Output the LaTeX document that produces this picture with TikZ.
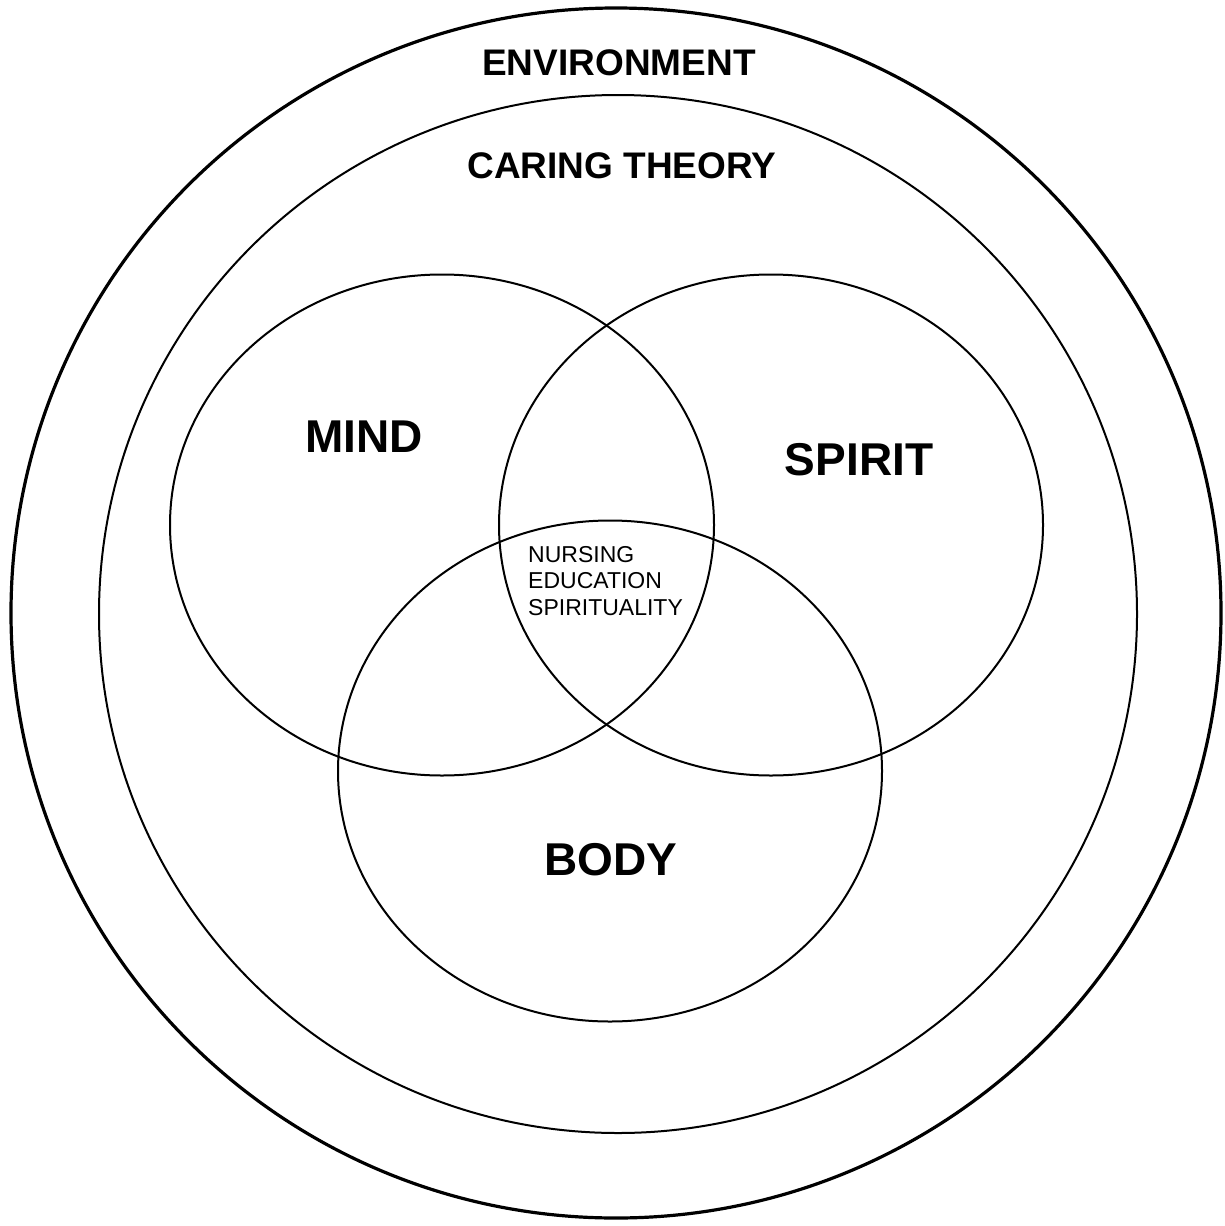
\documentclass[tikz,border=0pt]{standalone}
\usepackage{fontspec}
\setmainfont{Liberation Sans}
\usetikzlibrary{shapes.geometric}

\begin{document}
\begin{tikzpicture}[x=1pt, y=-1pt,
    ring/.style={circle, draw, line width=2pt, inner sep=0pt},
    part/.style={ellipse, draw, line width=2pt, inner sep=0pt,
                 minimum width=544pt, minimum height=501pt},
    title/.style={anchor=base, font=\bfseries\fontsize{37}{44}\selectfont},
    big/.style={anchor=base, font=\bfseries\fontsize{46}{55}\selectfont}]
          \useasboundingbox (0,0) rectangle (1225,1226);

          % the two rings
          \node[ring, line width=3.2pt, minimum size=1210pt] (env) at (616,613) {};
          \node[ring, minimum size=1038pt] (care) at (618,614) {};

          % the three parts
          \node[part] (mind) at (442,525) {};
          \node[part] (spirit) at (771,525) {};
          \node[part] (body) at (610,771) {};

          \node[title] (envlabel) at (619,75) {ENVIRONMENT};
          \node[title] (carelabel) at (622,178) {CARING THEORY};
          \node[big] (mindlabel) at (364,452) {MIND};
          \node[big] (spiritlabel) at (859,475) {SPIRIT};
          \node[big] (bodylabel) at (611,875) {BODY};

          % the middle
          \node[anchor=base west, align=left, inner sep=0pt,
                font=\fontsize{23}{26.5}\selectfont] (core) at (528,615)
                {NURSING\\EDUCATION\\SPIRITUALITY};
        \end{tikzpicture}
\end{document}
